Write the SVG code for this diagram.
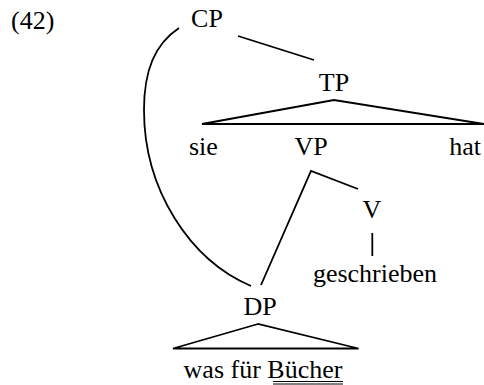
<svg xmlns="http://www.w3.org/2000/svg" width="484" height="385" viewBox="0 0 484 385">
  <style>
    text { font-family: "Liberation Serif", "Times New Roman", serif; font-size: 26px; fill: #000; }
    .mid { text-anchor: middle; }
    .edge { fill: none; stroke: #000; stroke-width: 1.8; stroke-linecap: butt; stroke-linejoin: miter; }
    .rule { stroke: #000; stroke-width: 1.2; }
  </style>
  <rect width="484" height="385" fill="#fff"/>

  <text x="11" y="29">(42)</text>

  <!-- branches and movement curve -->
  <g id="connectors">
    <line class="edge" x1="238" y1="36" x2="314" y2="60"/>
    <polygon class="edge" points="334,100 202,124 484,124"/>
    <polyline class="edge" points="261,285 311,171 358,189"/>
    <line class="edge" x1="372.3" y1="233" x2="372.3" y2="256" stroke-width="1.2"/>
    <polygon class="edge" points="258,324 173,348.5 358.5,348.5"/>
    <path class="edge" d="M179,28 C155,44 144,70 144,110 C144,190 190,260 251,286"/>
  </g>

  <g id="node-cp"><text class="mid" x="207" y="27">CP</text></g>
  <g id="node-tp"><text class="mid" x="334" y="91">TP</text></g>
  <g id="node-sie"><text x="189" y="155">sie</text></g>
  <g id="node-vp"><text class="mid" x="311" y="155">VP</text></g>
  <g id="node-hat"><text x="481" y="155" text-anchor="end">hat</text></g>
  <g id="node-v"><text class="mid" x="372" y="218">V</text></g>
  <g id="node-geschrieben"><text class="mid" x="375" y="282">geschrieben</text></g>
  <g id="node-dp"><text class="mid" x="260" y="315">DP</text></g>
  <g id="node-was-fuer-buecher">
    <text class="mid" x="263" y="378">was für <tspan id="buecher">Bücher</tspan></text>
    <line class="rule" x1="273" y1="381.5" x2="343" y2="381.5"/>
    <line class="rule" x1="273" y1="384" x2="343" y2="384"/>
  </g>
</svg>
